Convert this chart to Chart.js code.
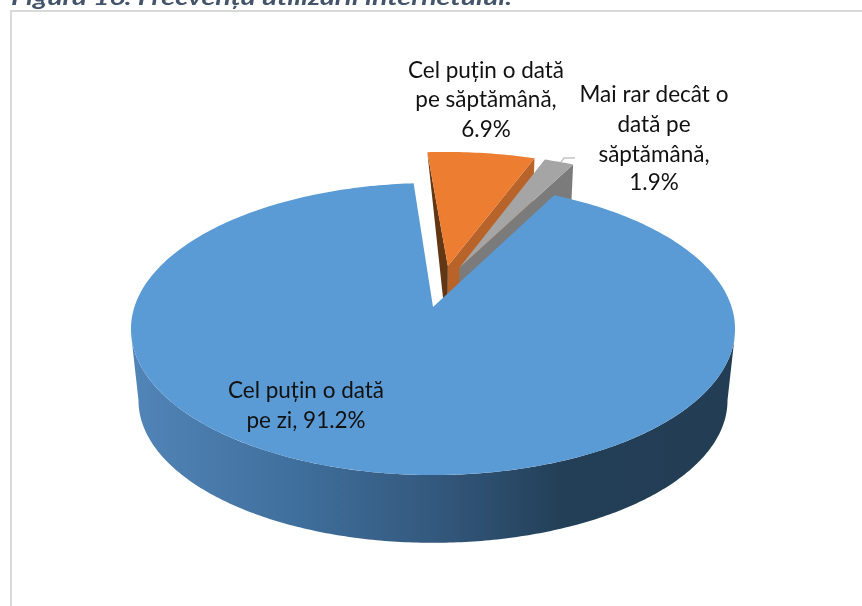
<!DOCTYPE html>
<html><head><meta charset="utf-8">
<script src="https://cdn.jsdelivr.net/npm/chart.js@4/dist/chart.umd.min.js"></script>
<style>html,body{margin:0;padding:0;background:#fff;overflow:hidden}canvas{display:block}</style>
</head><body><canvas id="c" width="862" height="606"></canvas>
<script>
const categories = ["Cel puțin o dată pe zi", "Cel puțin o dată pe săptămână", "Mai rar decât o dată pe săptămână"];
const values = [91.2, 6.9, 1.9];
const topColors = ["#5b9bd5", "#ed7d31", "#a5a5a5"];
const labelLines = [
  ["Cel puțin o dată", "pe zi, 91.2%"],
  ["Cel puțin o dată", "pe săptămână,", "6.9%"],
  ["Mai rar decât o", "dată pe", "săptămână,", "1.9%"]
];
const titleText = "Figura 16. Frecvența utilizării internetului.";

const view = {cx:433, y0:307, a:298.6, b:142.7, k:0.1507, s:0.975, d:72};
const labelPos = [{x:306,y:[391,421]},{x:486,y:[71,100,130]},{x:654,y:[95,125,155,183]}];

function project(u, v, bottom){
  const w = 1 - view.k*v, s = bottom ? view.s : 1;
  return [view.cx + s*view.a*u/w, view.y0 + s*view.b*v/w + (bottom ? view.d : 0)];
}
const pie3d = {
  id:'pie3d',
  beforeDraw(chart){
    const ctx = chart.ctx;
    ctx.save();
    ctx.fillStyle='#fff'; ctx.fillRect(0,0,862,606);
    ctx.strokeStyle='#d9d9d9'; ctx.lineWidth=2;
    ctx.beginPath(); ctx.moveTo(11,606); ctx.lineTo(11,11); ctx.lineTo(862,11); ctx.stroke();
    ctx.fillStyle='#44546a'; ctx.font='italic bold 21px Lato, sans-serif'; ctx.textBaseline='alphabetic'; ctx.textAlign='left';
    const tw=ctx.measureText(titleText).width;
    ctx.translate(11,5); ctx.scale(501/tw,1);
    ctx.fillText(titleText,0,0);
    ctx.restore();
  },
  beforeDatasetsDraw(chart){
    const ctx = chart.ctx, arcs = chart.getDatasetMeta(0).data;
    const R = arcs[0].outerRadius;
    const disp = arcs.map(a=>{const m=(a.startAngle+a.endAngle)/2, e=a.options.offset/R; return [Math.cos(m)*e, Math.sin(m)*e];});
    const base = disp[0];
    const apex = i=>[disp[i][0]-base[0], disp[i][1]-base[1]];
    const rim = (i,t)=>{const p=apex(i); return [p[0]+Math.cos(t), p[1]+Math.sin(t)];};
    const fillPoly=(pts,fill)=>{ctx.beginPath(); pts.forEach((p,j)=>j?ctx.lineTo(p[0],p[1]):ctx.moveTo(p[0],p[1])); ctx.closePath(); ctx.fillStyle=fill; ctx.fill();};
    const sector=(i)=>{const a=arcs[i], pts=[project(...apex(i),false)]; const n=Math.ceil((a.endAngle-a.startAngle)*60);
      for(let j=0;j<=n;j++){pts.push(project(...rim(i,a.startAngle+(a.endAngle-a.startAngle)*j/n),false));} return pts;};
    ctx.save();
    // orange walls
    const oA=project(...apex(1),false), oAb=project(...apex(1),true);
    const oS=rim(1,arcs[1].startAngle), oE=rim(1,arcs[1].endAngle);
    fillPoly([oA,oAb,project(...oE,true),project(...oE,false)],'#b8632a');
    fillPoly([project(...oS,false),oA,oAb],'#633614');
    // grey wall
    const gA=project(...apex(2),false), gAb=project(...apex(2),true), gE=rim(2,arcs[2].endAngle);
    fillPoly([gA,gAb,project(...gE,true),project(...gE,false)],'#7b7b7b');
    // small tops
    fillPoly(sector(1),topColors[1]);
    fillPoly(sector(2),topColors[2]);
    // leader
    ctx.strokeStyle='#c4c4c4'; ctx.lineWidth=1.5; ctx.beginPath(); ctx.moveTo(561,162); ctx.lineTo(564,158); ctx.lineTo(575,158); ctx.stroke();
    // blue wall
    const grad=ctx.createLinearGradient(136,0,730,0);
    grad.addColorStop(0,'#5184b7'); grad.addColorStop(0.27,'#3f6f9c'); grad.addColorStop(0.5,'#34597e'); grad.addColorStop(0.72,'#233f57'); grad.addColorStop(1,'#223d54');
    const wall=[];
    const tl=Math.PI-0.2, tr=0.2, bl=Math.PI-0.15, br=0.15;
    for(let j=0;j<=240;j++){const t=tl+(tr-tl)*j/240; wall.push(project(Math.cos(t),Math.sin(t),false));}
    for(let j=240;j>=0;j--){const t=bl+(br-bl)*j/240; wall.push(project(Math.cos(t),Math.sin(t),true));}
    fillPoly(wall,grad);
    fillPoly(sector(0),topColors[0]);
    ctx.restore();
    return false;
  },
  afterDraw(chart){
    const ctx=chart.ctx; ctx.save();
    ctx.fillStyle='#111'; ctx.font='22.5px Lato, sans-serif'; ctx.textAlign='center'; ctx.textBaseline='middle';
    labelLines.forEach((ls,i)=>ls.forEach((t,j)=>ctx.fillText(t,labelPos[i].x,labelPos[i].y[j])));
    ctx.restore();
  }
};
new Chart(document.getElementById('c'),{
  type:'pie',
  data:{labels:categories,datasets:[{data:values,backgroundColor:topColors,offset:30.4,radius:200,borderWidth:0}]},
  options:{responsive:false,animation:false,rotation:27.4,
    plugins:{legend:{display:false},tooltip:{enabled:false},title:{display:false}}},
  plugins:[pie3d]
});
</script></body></html>
